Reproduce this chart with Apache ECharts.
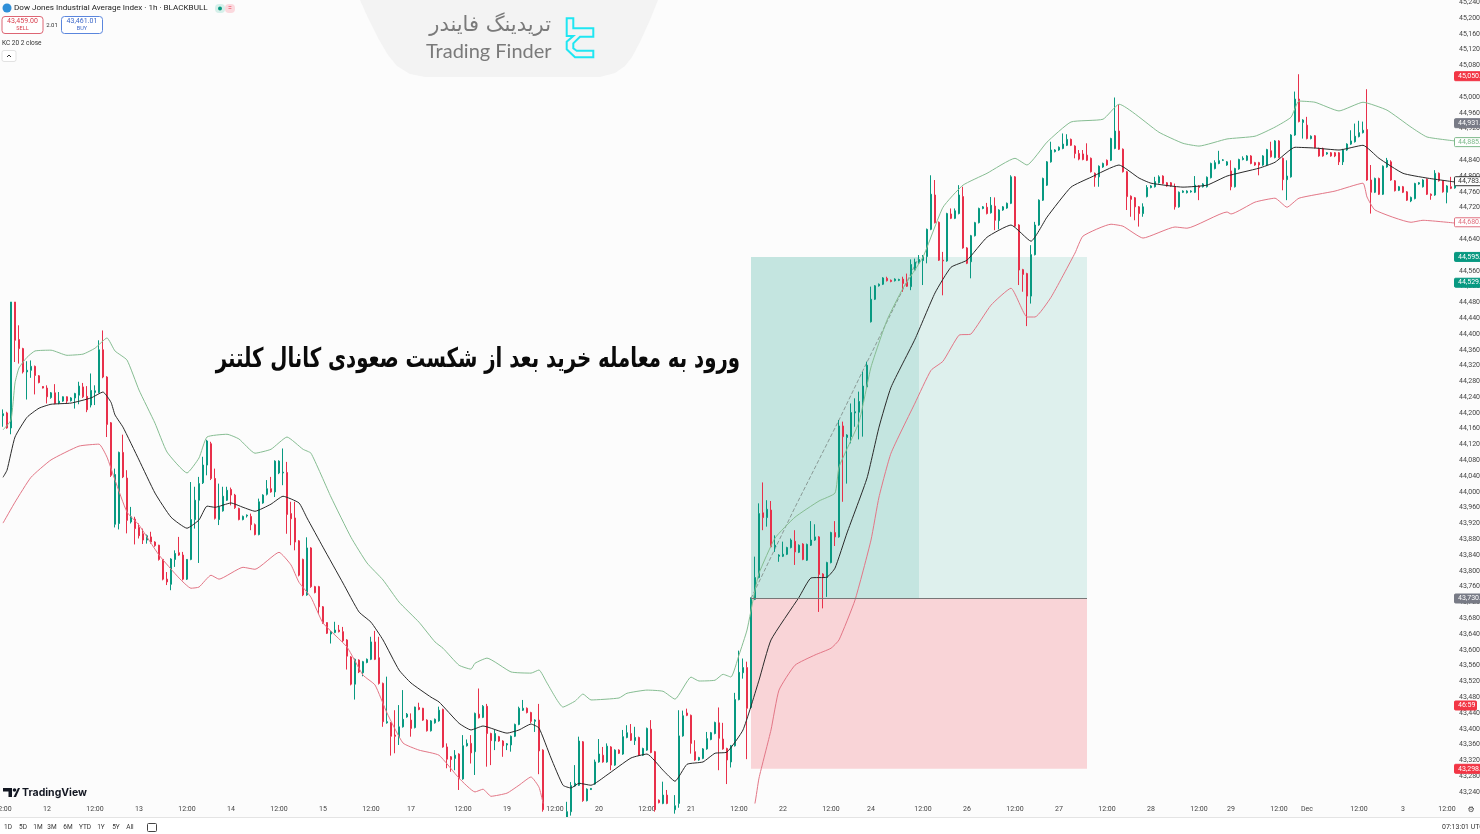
<!DOCTYPE html>
<html>
<head>
<meta charset="utf-8">
<title>Keltner breakout</title>
<script src="https://cdn.jsdelivr.net/npm/echarts@6.0.0/dist/echarts.min.js"></script>
<style>
html, body { margin: 0; padding: 0; background: #fff; overflow: hidden; }
#chart { width: 1480px; height: 834px; }
</style>
</head>
<body>
<div id="chart"></div>
<script>
// candles, one row per 1h bar: open, close, low, high
const candleRows = [
[44193,44198,44165,44209],[44200,44162,44160,44203],[44162,44481,44146,44481],[44481,44384,44329,44481],[44386,44363,44325,44422],
[44363,44304,44300,44365],[44304,44308,44234,44331],[44308,44318,44289,44333],[44318,44295,44247,44320],[44294,44277,44275,44296],
[44267,44263,44262,44268],[44263,44241,44224,44270],[44239,44251,44236,44253],[44251,44224,44222,44273],[44225,44230,44222,44253],
[44230,44241,44228,44242],[44241,44230,44225,44242],[44231,44238,44229,44240],[44238,44249,44211,44251],[44245,44268,44222,44279],
[44266,44241,44238,44276],[44242,44208,44202,44268],[44220,44257,44214,44300],[44252,44256,44220,44270],[44252,44360,44250,44384],
[44360,44291,44288,44409],[44291,44171,44139,44293],[44175,44042,44038,44177],[43918,44044,43910,44059],[43920,44100,43905,44102],
[44100,44038,44035,44145],[44035,43928,43895,44055],[43924,43937,43920,43962],[43931,43907,43867,43937],[43910,43889,43882,43920],
[43894,43878,43868,43907],[43878,43889,43869,43892],[43886,43873,43869,43899],[43873,43864,43861,43875],[43865,43829,43826,43866],
[43829,43779,43776,43830],[43779,43772,43764,43797],[43766,43830,43751,43832],[43829,43844,43810,43852],[43846,43840,43838,43886],
[43840,43779,43776,43848],[43779,43829,43777,43830],[43829,43930,43827,44025],[43930,43979,43907,44013],[43979,44021,43820,44038],
[44023,44068,44020,44089],[44068,44129,44042,44132],[44122,44034,44030,44127],[44034,43933,43930,44059],[43930,43962,43916,44021],
[43952,43989,43950,44013],[43979,44004,43977,44013],[44006,43992,43966,44011],[43992,43960,43957,43995],[43958,43930,43928,43960],
[43930,43938,43928,43940],[43939,43941,43935,43943],[43938,43917,43903,43945],[43917,43892,43890,43920],[43892,43975,43890,43983],
[43972,43992,43970,43994],[43994,44008,43991,44030],[44008,44000,43998,44038],[44000,44078,43987,44080],[44048,44078,44045,44080],
[44048,44050,44017,44110],[44049,43943,43894,44076],[43945,43932,43865,43975],[43934,43873,43852,43975],[43876,43789,43786,43878],
[43829,43739,43736,43831],[43739,43858,43737,43885],[43858,43760,43757,43860],[43760,43745,43743,43762],[43760,43709,43690,43762],
[43709,43669,43666,43711],[43669,43642,43640,43670],[43640,43646,43616,43648],[43644,43650,43642,43671],[43650,43646,43644,43663],
[43646,43623,43620,43658],[43625,43584,43550,43627],[43582,43513,43510,43584],[43513,43576,43474,43578],[43574,43544,43541,43576],
[43542,43570,43533,43572],[43568,43576,43566,43578],[43576,43620,43574,43633],[43620,43576,43574,43648],[43580,43515,43512,43633],
[43515,43418,43405,43517],[43415,43418,43413,43532],[43415,43381,43332,43417],[43384,43381,43338,43447],[43378,43405,43359,43460],
[43405,43424,43403,43498],[43430,43437,43428,43440],[43422,43401,43380,43439],[43403,43455,43401,43456],[43454,43449,43447,43466],
[43452,43422,43420,43453],[43422,43395,43393,43424],[43395,43420,43393,43422],[43415,43424,43413,43426],[43420,43447,43418,43456],
[43449,43354,43352,43451],[43354,43323,43300,43363],[43329,43322,43291,43331],[43325,43333,43295,43346],[43336,43273,43245,43338],
[43273,43357,43271,43384],[43357,43363,43355,43373],[43363,43339,43312,43384],[43342,43439,43283,43441],[43437,43428,43426,43502],
[43429,43457,43427,43460],[43457,43388,43304,43463],[43388,43370,43308,43390],[43369,43388,43346,43397],[43380,43369,43367,43382],
[43369,43357,43329,43371],[43359,43362,43346,43364],[43359,43381,43342,43383],[43381,43411,43379,43413],[43411,43452,43409,43456],
[43447,43452,43445,43473],[43452,43441,43439,43454],[43441,43419,43414,43443],[43419,43422,43392,43424],[43422,43344,43285,43463],
[43346,43195,43190,43348],[43195,43170,43150,43205],[43170,43150,43130,43185],[43150,43160,43120,43180],[43160,43175,43140,43190],
[43175,43170,43150,43195],[43170,43190,43160,43215],[43190,43256,43180,43265],[43255,43262,43253,43308],[43257,43369,43255,43380],
[43367,43218,43215,43369],[43218,43247,43216,43249],[43246,43249,43245,43250],[43260,43316,43258,43322],[43316,43336,43314,43374],
[43333,43316,43314,43354],[43316,43356,43314,43363],[43354,43308,43295,43356],[43308,43346,43306,43348],[43346,43338,43336,43348],
[43336,43380,43334,43397],[43378,43390,43376,43409],[43388,43371,43369,43412],[43370,43378,43359,43405],[43378,43333,43331,43380],
[43333,43350,43331,43352],[43346,43401,43344,43403],[43399,43340,43338,43422],[43342,43195,43190,43344],[43219,43213,43211,43221],
[43211,43232,43209,43266],[43232,43211,43209,43245],[43205,43195,43190,43208],[43195,43205,43185,43232],[43211,43382,43200,43447],
[43382,43433,43380,43446],[43440,43434,43432,43451],[43434,43363,43337,43436],[43342,43321,43319,43371],[43321,43327,43319,43329],
[43325,43349,43323,43351],[43349,43375,43347,43392],[43373,43390,43371,43392],[43388,43416,43386,43418],[43415,43376,43295,43454],
[43374,43349,43347,43415],[43350,43321,43260,43352],[43316,43357,43302,43359],[43357,43474,43355,43491],[43474,43543,43472,43598],
[43542,43555,43527,43578],[43555,43452,43323,43570],[43454,43728,43450,43733],[43728,43783,43726,43836],[43783,43945,43781,43971],
[43947,43935,43903,44024],[43935,43956,43912,43979],[43954,43861,43859,43977],[43861,43865,43848,43890],[43837,43840,43823,43842],
[43837,43842,43835,43874],[43842,43859,43840,43861],[43859,43878,43857,43882],[43875,43848,43815,43903],[43847,43865,43845,43867],
[43868,43829,43827,43870],[43827,43867,43825,43869],[43865,43878,43863,43926],[43878,43886,43876,43918],[43886,43791,43696,43888],
[43792,43783,43705,43794],[43783,43821,43734,43823],[43821,43897,43819,43899],[43897,43886,43863,43926],[43886,44167,43884,44182],
[44167,44140,43975,44178],[44138,44144,44021,44146],[44140,44201,44123,44224],[44200,44203,44165,44237],[44202,44229,44133,44254],
[44227,44268,44140,44304],[44266,44321,44264,44330],[44431,44488,44429,44520],[44488,44522,44486,44524],[44522,44526,44520,44528],
[44526,44542,44524,44544],[44541,44535,44533,44545],[44536,44533,44531,44538],[44535,44539,44533,44541],[44536,44538,44534,44540],
[44539,44528,44507,44545],[44532,44521,44519,44553],[44520,44576,44511,44589],[44562,44582,44560,44591],[44580,44589,44578,44600],
[44586,44596,44524,44600],[44596,44665,44579,44667],[44665,44754,44663,44802],[44752,44682,44680,44790],[44683,44587,44585,44685],
[44587,44585,44498,44608],[44585,44705,44583,44707],[44704,44693,44691,44718],[44693,44712,44691,44718],[44705,44752,44703,44777],
[44748,44618,44616,44773],[44618,44579,44577,44620],[44583,44649,44541,44651],[44649,44682,44647,44684],[44682,44718,44680,44720],
[44718,44722,44716,44724],[44721,44705,44703,44732],[44707,44726,44705,44747],[44724,44688,44663,44746],[44687,44714,44665,44716],
[44714,44722,44712,44724],[44719,44731,44717,44733],[44731,44798,44729,44802],[44798,44673,44671,44800],[44676,44562,44524,44678],
[44563,44551,44507,44565],[44553,44496,44420,44555],[44496,44601,44477,44625],[44601,44676,44599,44684],[44676,44739,44674,44741],
[44739,44794,44737,44796],[44777,44836,44775,44838],[44836,44866,44834,44887],[44862,44866,44860,44868],[44866,44873,44864,44875],
[44870,44881,44868,44908],[44878,44893,44876,44906],[44893,44878,44876,44895],[44876,44857,44845,44878],[44857,44843,44840,44866],
[44856,44842,44840,44866],[44853,44840,44838,44883],[44845,44811,44809,44847],[44807,44797,44773,44809],[44798,44825,44773,44827],
[44823,44832,44821,44834],[44840,44828,44826,44842],[44840,44895,44838,44897],[44870,44914,44868,44999],[44914,44868,44866,44981],
[44868,44811,44809,44870],[44811,44748,44714,44813],[44749,44741,44697,44751],[44745,44722,44688,44747],[44722,44705,44672,44724],
[44705,44722,44697,44731],[44748,44771,44746,44777],[44771,44775,44769,44777],[44773,44786,44771,44798],[44783,44798,44781,44802],
[44800,44781,44779,44802],[44783,44775,44773,44785],[44783,44775,44773,44785],[44773,44722,44715,44781],[44722,44759,44720,44761],
[44759,44762,44757,44764],[44758,44762,44756,44764],[44760,44762,44758,44764],[44759,44777,44757,44800],[44775,44771,44739,44777],
[44773,44780,44771,44782],[44773,44797,44771,44799],[44796,44832,44794,44834],[44819,44834,44817,44840],[44832,44839,44830,44864],
[44840,44841,44838,44843],[44828,44836,44826,44838],[44813,44773,44764,44840],[44773,44819,44771,44821],[44818,44842,44816,44844],
[44842,44845,44840,44850],[44840,44851,44838,44853],[44851,44832,44830,44853],[44834,44828,44826,44836],[44834,44828,44802,44836],
[44828,44851,44826,44853],[44828,44867,44826,44869],[44864,44849,44847,44887],[44847,44889,44845,44891],[44889,44847,44845,44891],
[44845,44791,44764,44847],[44791,44800,44739,44840],[44798,44904,44796,44906],[44904,44995,44902,45014],[44995,44938,44936,45058],
[44936,44942,44895,44944],[44929,44895,44893,44950],[44895,44901,44893,44903],[44902,44872,44870,44904],[44870,44851,44849,44872],
[44870,44851,44849,44872],[44856,44859,44854,44861],[44859,44851,44849,44861],[44859,44851,44848,44861],[44859,44836,44828,44861],
[44836,44867,44828,44869],[44866,44881,44864,44883],[44881,44889,44879,44916],[44887,44901,44885,44933],[44900,44910,44898,44940],
[44910,44916,44908,44938],[44918,44790,44788,45020],[44790,44759,44705,44828],[44759,44794,44757,44796],[44794,44754,44752,44796],
[44754,44825,44752,44827],[44823,44840,44821,44846],[44836,44790,44788,44840],[44788,44763,44761,44790],[44764,44773,44762,44775],
[44773,44759,44757,44775],[44760,44739,44737,44762],[44737,44746,44734,44748],[44743,44781,44741,44783],[44780,44783,44778,44785],
[44773,44790,44771,44792],[44792,44754,44752,44794],[44754,44751,44740,44756],[44752,44807,44750,44815],[44807,44788,44786,44809],
[44788,44760,44758,44790],[44759,44775,44731,44777],[44773,44769,44767,44798],[44770,44783,44768,44785]
];

// Keltner channel, [bar, price] read where the curve bends
const upperBand = [[0,44157],[2,44182],[3,44276],[4,44314],[6,44341],[8,44357],[12,44359],[16,44346],[20,44349],[23,44364],[26,44390],[28,44357],[31,44334],[34,44258],[38,44174],[41,44101],[46,44048],[49,44086],[51,44139],[56,44146],[59,44134],[63,44098],[67,44108],[71,44139],[75,44108],[77,44098],[82,43987],[87,43885],[91,43820],[95,43777],[99,43721],[104,43670],[108,43620],[110,43604],[114,43561],[117,43551],[118,43566],[121,43579],[127,43544],[132,43541],[134,43549],[136,43516],[140,43455],[143,43470],[145,43488],[147,43473],[154,43478],[156,43490],[161,43498],[165,43495],[168,43475],[172,43531],[174,43521],[178,43523],[180,43538],[182,43531],[184,43587],[186,43650],[188,43751],[189,43794],[193,43883],[198,43936],[204,43977],[208,43997],[209,44063],[214,44177],[217,44316],[221,44435],[225,44516],[230,44595],[235,44721],[240,44777],[246,44807],[253,44845],[256,44828],[261,44886],[267,44937],[275,44944],[279,44982],[289,44911],[295,44883],[299,44876],[306,44894],[313,44901],[318,44924],[322,44949],[324,44990],[328,44987],[334,44965],[340,44987],[346,44967],[352,44924],[356,44899],[363,44889]];
const middleBand = [[0,44037],[1,44055],[3,44139],[6,44189],[9,44212],[12,44222],[17,44225],[22,44238],[25,44253],[27,44227],[28,44195],[30,44164],[34,44081],[38,43997],[42,43936],[46,43908],[49,43929],[51,43964],[53,43961],[57,43972],[60,43961],[63,43951],[67,43969],[70,43989],[74,43972],[76,43934],[80,43860],[85,43769],[89,43696],[92,43670],[95,43625],[99,43549],[102,43516],[107,43480],[109,43468],[114,43414],[117,43397],[120,43407],[126,43389],[129,43397],[132,43412],[134,43402],[137,43326],[140,43257],[142,43250],[144,43262],[147,43257],[151,43283],[157,43326],[161,43336],[165,43295],[168,43267],[171,43310],[175,43316],[178,43338],[181,43341],[185,43397],[189,43523],[192,43625],[199,43733],[202,43782],[206,43784],[208,43807],[211,43896],[216,44035],[219,44164],[222,44265],[228,44387],[233,44504],[237,44569],[241,44587],[246,44645],[252,44676],[257,44635],[261,44696],[267,44772],[272,44797],[279,44828],[284,44795],[287,44782],[295,44772],[301,44777],[306,44800],[314,44820],[318,44835],[323,44873],[328,44871],[334,44866],[340,44878],[344,44845],[350,44807],[356,44795],[363,44785]];
const lowerBand = [[0,43921],[3,43974],[7,44037],[12,44081],[19,44116],[24,44121],[26,44088],[28,44030],[31,43949],[34,43916],[39,43840],[44,43782],[47,43756],[49,43759],[52,43789],[54,43779],[60,43809],[63,43804],[69,43847],[72,43815],[74,43771],[77,43733],[80,43668],[86,43607],[90,43536],[93,43511],[96,43440],[100,43364],[104,43346],[109,43333],[114,43275],[118,43240],[120,43247],[122,43229],[126,43237],[129,43257],[132,43278],[134,43252],[135,43212],[137,43100],[150,43050],[170,43040],[185,43090],[188,43212],[189,43275],[192,43397],[194,43498],[198,43561],[203,43587],[207,43604],[209,43625],[213,43726],[217,43878],[219,43987],[222,44098],[228,44225],[232,44308],[235,44331],[239,44397],[242,44400],[247,44473],[252,44516],[256,44443],[258,44443],[262,44493],[268,44605],[270,44648],[277,44678],[280,44673],[285,44643],[293,44671],[296,44668],[306,44709],[307,44704],[313,44734],[318,44744],[321,44721],[324,44744],[333,44762],[340,44782],[341,44747],[343,44714],[352,44683],[355,44688],[363,44681]];

// long position tool
const entryBar = 187, splitBar = 229, endBar = 271;
const entryPrice = 43730, targetPrice = 44595.2, stopPrice = 43298.6;
const projectionPath = [[187,43730],[198,43961],[209,44182],[215,44308],[229,44595]];

const yTicks = [45240,45200,45160,45120,45080,45000,44960,44920,44880,44840,44800,44760,44720,44680,44640,44600,44560,44520,44480,44440,44400,44360,44320,44280,44240,44200,44160,44120,44080,44040,44000,43960,43920,43880,43840,43800,43760,43720,43680,43640,43600,43560,43520,43480,43440,43400,43360,43320,43280,43240];
const timeTickBars = [0,11,23,34,46,57,69,80,92,102,115,126,138,149,161,172,184,195,207,217,230,241,253,264,276,287,299,307,319,326,339,350,361];
const timeTickLabels = ['12:00','12','12:00','13','12:00','14','12:00','15','12:00','17','12:00','19','12:00','20','12:00','21','12:00','22','12:00','24','12:00','26','12:00','27','12:00','28','12:00','29','12:00','Dec','12:00','3','12:00'];
const rangeButtons = ['1D','5D','1M','3M','6M','YTD','1Y','5Y','All'];
const rangeButtonX = [8,23,38,52,68,85,101,116,130];

const priceTags = [
    { value: 45053, text: '45,050.3', bg: '#f23645', fg: '#fff', line: '#f23645' },
    { value: 44934, text: '44,931.5', bg: '#787b86', fg: '#fff', line: '#787b86' },
    { value: 44886, text: '44,885.6', bg: '#fff', fg: '#7db98a', line: '#7db98a' },
    { value: 44787, text: '44,783.7', bg: '#fff', fg: '#333', line: '#333' },
    { value: 44683, text: '44,680.5', bg: '#fff', fg: '#e0707f', line: '#e0707f' },
    { value: 44595.2, text: '44,595.2', bg: '#089981', fg: '#fff', line: '#089981' },
    { value: 44529.8, text: '44,529.8', bg: '#089981', fg: '#fff', line: '#089981' },
    { value: 43730, text: '43,730.0', bg: '#787b86', fg: '#fff', line: '#787b86' },
    { value: 43459, text: '46:59', bg: '#f23645', fg: '#fff', line: '#f23645', short: true },
    { value: 43298.6, text: '43,298.6', bg: '#f23645', fg: '#fff', line: '#f23645' }
];

const uiFont = 'Roboto, sans-serif';
const categories = candleRows.map((_, i) => {
    const at = timeTickBars.indexOf(i);
    return at >= 0 ? timeTickLabels[at] : '';
});

function bandSeries(name, data, color, width) {
    return {
        name: name, type: 'line', data: data, smooth: 0.15, symbol: 'none', z: 4,
        silent: true, lineStyle: { color: color, width: width }
    };
}

function label(x, y, text, size, color, extra, scaleX) {
    return {
        type: 'text', z: 50, silent: true, x: x, y: y, scaleX: scaleX || 1,
        style: Object.assign({ text: text, fontSize: size, fill: color, fontFamily: uiFont, verticalAlign: 'middle' }, extra || {})
    };
}

function box(x, y, w, h, fill, stroke, r) {
    return {
        type: 'rect', z: 40, silent: true,
        shape: { x: x, y: y, width: w, height: h, r: r || 0 },
        style: { fill: fill, stroke: stroke || 'none', lineWidth: 1 }
    };
}

const myChart = echarts.init(document.getElementById('chart'), null, { renderer: 'canvas' });

myChart.setOption({
    animation: false,
    backgroundColor: '#fcfcfc',
    grid: { left: 1, top: 0, width: 1456, height: 803, containLabel: false, outerBoundsMode: 'none' },
    xAxis: {
        type: 'category',
        data: categories,
        boundaryGap: true,
        axisLine: { show: false },
        axisTick: { show: false },
        splitLine: { show: false },
        axisLabel: {
            interval: (i, v) => v !== '',
            fontSize: 7, color: '#444', margin: 3, fontFamily: uiFont,
            hideOverlap: false
        }
    },
    yAxis: {
        type: 'value',
        position: 'right',
        min: 43212,
        max: 45246,
        axisLine: { show: false },
        axisTick: { show: false },
        splitLine: { show: false },
        axisLabel: {
            customValues: yTicks,
            fontSize: 7, color: '#444', margin: 2, fontFamily: uiFont,
            formatter: v => v.toLocaleString('en-US', { minimumFractionDigits: 1 })
        }
    },
    series: [
        {
            name: 'Projection', type: 'line', data: projectionPath, symbol: 'none', z: 1, silent: true,
            lineStyle: { color: '#8a9a96', width: 1, type: 'dashed' },
            markArea: {
                silent: true,
                data: [
                    [{ coord: [entryBar, targetPrice], itemStyle: { color: 'rgba(8,153,129,0.12)' } }, { coord: [endBar, entryPrice] }],
                    [{ coord: [entryBar, targetPrice], itemStyle: { color: 'rgba(8,153,129,0.12)' } }, { coord: [splitBar, entryPrice] }],
                    [{ coord: [entryBar, entryPrice], itemStyle: { color: 'rgba(242,54,69,0.2)' } }, { coord: [endBar, stopPrice] }]
                ]
            },
            markLine: {
                silent: true, symbol: 'none', label: { show: false },
                lineStyle: { color: '#777', width: 1, type: 'solid' },
                data: [[{ coord: [entryBar, entryPrice] }, { coord: [endBar, entryPrice] }]]
            }
        },
        {
            name: 'US30', type: 'candlestick', data: candleRows, barWidth: 2, z: 3, silent: true,
            itemStyle: { color: '#089981', color0: '#e8304a', borderColor: '#089981', borderColor0: '#e8304a', borderWidth: 1 }
        },
        bandSeries('KC upper', upperBand, '#86bd92', 1),
        bandSeries('KC basis', middleBand, '#2a2a2a', 1),
        bandSeries('KC lower', lowerBand, '#e27686', 1)
    ]
});

const hudItems = [
    box(0, 818, 1480, 16, '#ffffff'),
    { type: 'line', z: 41, silent: true, shape: { x1: 0, y1: 817.5, x2: 1480, y2: 817.5 }, style: { stroke: '#e4e4e4', lineWidth: 1 } },
    // logo plate
    { type: 'polygon', z: 30, silent: true, shape: { points: [[360,0],[658,0],[650,20],[640,42],[632,57],[625,66],[615,73],[600,77],[425,77],[410,74],[397,66],[388,55],[378,38],[368,18]] }, style: { fill: '#f3f3f3' } },
    { type: 'polygon', z: 31, silent: true, shape: { points: [[566.7,18.3],[573.3,18.3],[573.3,28.3],[593.3,28.3],[593.3,36.7],[580,36.7],[573.3,43.3],[573.3,48.3],[576.7,50.7],[593.3,50.7],[593.3,57.3],[575,57.3],[566.7,49.3],[566.7,41.7],[573.3,36],[566.7,36]] }, style: { fill: 'none', stroke: '#1fe6f2', lineWidth: 2 } },
    label(551, 26, 'تریدینگ فایندر', 21, '#7a7a7a', { align: 'right', fontFamily: 'DejaVu Sans' }),
    label(426, 52, 'Trading Finder', 20, '#7a7a7a', { fontFamily: 'Lato, sans-serif' }),
    // headline
    label(740, 360, 'ورود به معامله خرید بعد از شکست صعودی کانال کلتنر', 27, '#0a0a0a', { align: 'right', fontFamily: 'DejaVu Sans', fontWeight: 'bold' }, 0.73),
    // symbol header
    { type: 'circle', z: 40, silent: true, shape: { cx: 7, cy: 8, r: 4.5 }, style: { fill: '#2f8fd8' } },
    label(14, 8, 'Dow Jones Industrial Average Index · 1h · BLACKBULL', 8.1, '#222'),
    { type: 'rect', z: 40, silent: true, shape: { x: 215, y: 4, width: 10, height: 9, r: 4 }, style: { fill: '#d6f0ea' } },
    { type: 'circle', z: 41, silent: true, shape: { cx: 220, cy: 8.5, r: 2 }, style: { fill: '#089981' } },
    { type: 'rect', z: 40, silent: true, shape: { x: 225, y: 4, width: 10, height: 9, r: 4 }, style: { fill: '#fbd9de' } },
    label(230, 8.5, '=', 7, '#e8304a', { align: 'center' }),
    box(2, 16.5, 41, 17, '#fff', '#dd6674', 3),
    label(22.5, 21.5, '43,459.00', 7, '#d8404f', { align: 'center' }),
    label(22.5, 29, 'SELL', 5.5, '#d8404f', { align: 'center' }),
    label(52, 25, '2.01', 6, '#333', { align: 'center' }),
    box(61.5, 16.5, 41, 17, '#fff', '#5a86dd', 3),
    label(82, 21.5, '43,461.01', 7, '#3a66c8', { align: 'center' }),
    label(82, 29, 'BUY', 5.5, '#3a66c8', { align: 'center' }),
    label(2, 43, 'KC 20 2 close', 6.5, '#333'),
    box(2, 50.5, 14, 11, '#fff', '#e2e2e2', 2),
    { type: 'polyline', z: 41, silent: true, shape: { points: [[7,57],[9,55],[11,57]] }, style: { fill: 'none', stroke: '#333', lineWidth: 1 } },
    // tradingview mark
    { type: 'polygon', z: 40, silent: true, shape: { points: [[3,788],[12,788],[12,797],[8.5,797],[8.5,791.5],[3,791.5]] }, style: { fill: '#131722' } },
    { type: 'circle', z: 40, silent: true, shape: { cx: 14.5, cy: 790, r: 1.8 }, style: { fill: '#131722' } },
    { type: 'polygon', z: 40, silent: true, shape: { points: [[16,797],[20,788],[18,788],[13.5,797]] }, style: { fill: '#131722' } },
    label(22, 793, 'TradingView', 10.5, '#131722', { fontWeight: 'bold', fontFamily: 'Inter, sans-serif' }),
    // bottom bar
    label(1471, 810, '⚙', 8, '#444', { align: 'center', fontFamily: 'DejaVu Sans' }),
    label(1442, 827, '07:13:01 UTC', 7, '#333'),
    { type: 'rect', z: 40, silent: true, shape: { x: 147.5, y: 823.5, width: 9, height: 8, r: 1 }, style: { fill: 'none', stroke: '#444', lineWidth: 1 } }
];
rangeButtons.forEach((t, i) => hudItems.push(label(rangeButtonX[i], 827, t, 6.5, '#333', { align: 'center' })));

// price tags follow the y axis scale
priceTags.forEach(t => {
    const y = myChart.convertToPixel({ yAxisIndex: 0 }, t.value);
    hudItems.push(box(1454.5, y - 4.5, t.short ? 22 : 30, 9, t.bg, t.line, 1));
    hudItems.push(label(1458, y, t.text, 7, t.fg));
});

myChart.setOption({ graphic: { elements: hudItems } });
</script>
</body>
</html>
